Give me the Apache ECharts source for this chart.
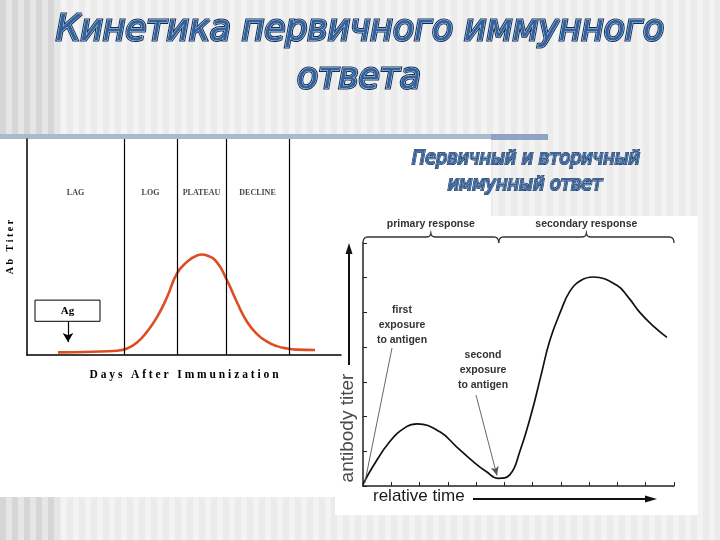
<!DOCTYPE html>
<html><head><meta charset="utf-8">
<script src="https://cdn.jsdelivr.net/npm/echarts@6.0.0/dist/echarts.min.js"></script>
<style>html,body{margin:0;padding:0;background:#f2f2f2}#c{width:720px;height:540px}</style>
</head><body><div id="c"></div>
<script>
// ---------- data ----------
const titleLines = ['Кинетика первичного иммунного', 'ответа'];
const subtitleLines = ['Первичный и вторичный', 'иммунный ответ'];

// left chart: primary response kinetics
const phaseNames = ['LAG', 'LOG', 'PLATEAU', 'DECLINE'];
const phaseBoundaries = [9.7, 15, 19.9, 26.2];
const primaryDays  = [3.1, 6.5, 9.0, 10, 11, 12, 13, 14, 15, 16, 17, 17.5, 18, 19, 20, 21, 22, 23, 24, 25, 26, 27, 28.8];
const primaryTiter = [1.2, 1.5, 2.0, 3.0, 5.8, 10.8, 17.5, 26.7, 37.8, 43.1, 46.1, 46.5, 46.1, 42.9, 34.6, 24.4, 15.4, 9.7, 6.2, 4.1, 3.0, 2.5, 2.3];
const agLabel = 'Ag';

// right chart: primary and secondary response
const relTime       = [0, 0.35, 0.95, 1.54, 1.92, 2.72, 3.31, 3.90, 4.37, 4.78, 5.19, 5.55, 5.96, 6.30, 6.61, 7.00, 7.31, 7.70, 8.14, 8.98, 9.40, 9.79, 10.25, 10.75];
const antibodyTiter = [0.05, 0.56, 1.28, 1.71, 1.79, 1.56, 1.13, 0.70, 0.41, 0.22, 0.32, 1.00, 2.10, 3.20, 4.20, 5.05, 5.60, 5.92, 6.02, 5.78, 5.42, 5.00, 4.62, 4.28];
const responseNames = ['primary response', 'secondary response'];
const responseSpans = [[0, 4.8], [4.8, 11]];
const firstExposureText = 'first\nexposure\nto antigen';
const secondExposureText = 'second\nexposure\nto antigen';
const firstExposurePoint = [0.06, 0.08];
const secondExposurePoint = [4.74, 0.3];

// ---------- helpers ----------
const ctx = document.createElement('canvas').getContext('2d');
function measure(text, font) { ctx.font = font; return ctx.measureText(text).width; }

const chart = echarts.init(document.getElementById('c'), null, {renderer: 'canvas'});

const serif = '"Liberation Serif", "DejaVu Serif", serif';
const sans = '"Liberation Sans", Arial, sans-serif';

const option = {
  animation: false,
  backgroundColor: '#f2f2f2',
  grid: [
    {left: 27, top: 139, width: 314, height: 216},
    {left: 363, top: 243, width: 311, height: 243}
  ],
  xAxis: [
    {
      gridIndex: 0, type: 'value', min: 0, max: 31.4,
      axisLine: {show: true, onZero: false, lineStyle: {color: '#000', width: 1.5}},
      axisTick: {show: false}, axisLabel: {show: false}, splitLine: {show: false},
      name: 'D a y s   A f t e r   I m m u n i z a t i o n',
      nameLocation: 'middle', nameGap: 14,
      nameTextStyle: {fontFamily: serif, fontWeight: 'bold', fontSize: 11.5, color: '#000'}
    },
    {
      gridIndex: 1, type: 'value', min: 0, max: 11, interval: 1,
      axisLine: {show: true, onZero: false, lineStyle: {color: '#222', width: 1.5}},
      axisTick: {show: true, inside: true, length: 4, lineStyle: {color: '#222', width: 1}},
      axisLabel: {show: false}, splitLine: {show: false}
    }
  ],
  yAxis: [
    {
      gridIndex: 0, type: 'value', min: 0, max: 100,
      axisLine: {show: true, onZero: false, lineStyle: {color: '#000', width: 1.5}},
      axisTick: {show: false}, axisLabel: {show: false}, splitLine: {show: false},
      name: 'A b   T i t e r', nameLocation: 'middle', nameGap: 12, nameRotate: 90,
      nameTextStyle: {fontFamily: serif, fontWeight: 'bold', fontSize: 10, color: '#000'}
    },
    {
      gridIndex: 1, type: 'value', min: 0, max: 7, interval: 1,
      axisLine: {show: true, onZero: false, lineStyle: {color: '#222', width: 1.5}},
      axisTick: {show: true, inside: true, length: 4, lineStyle: {color: '#222', width: 1}},
      axisLabel: {show: false}, splitLine: {show: false}
    }
  ],
  series: [
    {
      type: 'line', xAxisIndex: 0, yAxisIndex: 0,
      data: primaryDays.map((d, i) => [d, primaryTiter[i]]),
      smooth: 0.5, symbol: 'none', silent: true,
      lineStyle: {color: '#dc4e22', width: 2.6},
      z: 3,
      markLine: {
        silent: true, symbol: ['none', 'none'], animation: false,
        label: {show: false},
        lineStyle: {color: '#000', width: 1.2, type: 'solid'},
        data: phaseBoundaries.map(v => ({xAxis: v})).concat([
          [{coord: [4.1, 15.6], symbol: 'none'}, {coord: [4.1, 6.0], symbol: 'arrow', symbolSize: [8, 9]}]
        ])
      },
      markArea: {
        silent: true,
        itemStyle: {color: '#fff', borderColor: '#000', borderWidth: 1},
        label: {show: true, position: 'inside', fontFamily: serif, fontWeight: 'bold', fontSize: 11, color: '#000'},
        data: [[{name: agLabel, coord: [0.8, 25.4]}, {coord: [7.3, 15.6]}]]
      }
    },
    {
      type: 'scatter', xAxisIndex: 0, yAxisIndex: 0, symbolSize: 0, silent: true,
      data: phaseNames.map((n, i) => {
        const a = i === 0 ? 0 : phaseBoundaries[i - 1];
        const b = phaseBoundaries[i];
        return {value: [(a + b) / 2, 75], name: n};
      }),
      label: {show: true, position: 'inside', formatter: p => p.name,
        fontFamily: serif, fontWeight: 'bold', fontSize: 8, color: '#111'}
    },
    {
      type: 'line', xAxisIndex: 1, yAxisIndex: 1,
      data: relTime.map((t, i) => [t, antibodyTiter[i]]),
      smooth: 0.45, symbol: 'none', silent: true,
      lineStyle: {color: '#111', width: 1.7},
      markLine: {
        silent: true, symbol: ['none', 'none'], animation: false,
        label: {show: false},
        lineStyle: {color: '#555', width: 0.9, type: 'solid'},
        data: [
          [{x: 392, y: 348}, {coord: firstExposurePoint}],
          [{x: 476, y: 395}, {coord: secondExposurePoint, symbol: 'arrow', symbolSize: [6, 9]}]
        ]
      }
    }
  ]
};
chart.setOption(option);

// ---------- decoration / annotation graphics ----------
const g = [];
g.push({type: 'rect', shape: {x: 0, y: 0, width: 720, height: 540}, style: {fill: '#f3f3f3'}, z: 0});
for (let x = 55; x < 720; x += 12) {
  g.push({type: 'rect', shape: {x: x, y: 0, width: 6, height: 540}, style: {fill: '#ebebeb'}, z: 0});
}
for (let x = 0; x < 55; x += 12) {
  g.push({type: 'rect', shape: {x: x, y: 0, width: 6, height: 540}, style: {fill: '#d6d6d6'}, z: 0});
  g.push({type: 'rect', shape: {x: x + 6, y: 0, width: 6, height: 540}, style: {fill: '#e6e6e6'}, z: 0});
}
g.push({type: 'rect', shape: {x: 0, y: 139, width: 335, height: 358}, style: {fill: '#fff'}, z: 0});
g.push({type: 'rect', shape: {x: 0, y: 139, width: 491, height: 77}, style: {fill: '#fff'}, z: 0});
g.push({type: 'rect', shape: {x: 335, y: 216, width: 363, height: 299}, style: {fill: '#fff'}, z: 0});
g.push({type: 'rect', shape: {x: 0, y: 134, width: 491, height: 5}, style: {fill: '#aab9cb'}, z: 0});
g.push({type: 'rect', shape: {x: 491, y: 134, width: 57, height: 6}, style: {fill: '#8ea4c2'}, z: 0});

function outlinedText(text, cx, cy, size, targetW, scaleOverride, outer, inner) {
  const font = 'italic ' + size + 'px "DejaVu Sans"';
  const w = measure(text, font);
  const sx = scaleOverride || targetW / w;
  const common = {x: cx, y: cy, scaleX: sx, scaleY: 1};
  g.push(Object.assign({type: 'text', z: 6, style: {text: text, x: 0, y: 0, font: font, textAlign: 'center', textVerticalAlign: 'middle',
    fill: '#0b2d5c', stroke: '#0b2d5c', lineWidth: outer, lineJoin: 'round'}}, common));
  g.push(Object.assign({type: 'text', z: 7, style: {text: text, x: 0, y: 0, font: font, textAlign: 'center', textVerticalAlign: 'middle',
    fill: '#31619d', stroke: 'rgba(255,255,255,0.85)', lineWidth: inner}}, common));
  return sx;
}
const tSx = outlinedText(titleLines[0], 360, 31, 35, 608, 0, 3.0, 0.9);
outlinedText(titleLines[1], 359, 79, 35, 0, tSx, 3.0, 0.9);
const sSx = outlinedText(subtitleLines[0], 526, 159, 20, 228, 0, 2.2, 0.6);
outlinedText(subtitleLines[1], 525, 185, 20, 0, sSx, 2.2, 0.6);

// curly braces over the right chart (sampled quadratic curves)
function quad(p0, p1, p2, n) {
  const pts = [];
  for (let k = 0; k <= n; k++) {
    const t = k / n, u = 1 - t;
    pts.push([u * u * p0[0] + 2 * u * t * p1[0] + t * t * p2[0], u * u * p0[1] + 2 * u * t * p1[1] + t * t * p2[1]]);
  }
  return pts;
}
responseSpans.forEach((s, i) => {
  const p1 = chart.convertToPixel({gridIndex: 1}, [s[0], 7]);
  const p2 = chart.convertToPixel({gridIndex: 1}, [s[1], 7]);
  const a = p1[0], b = p2[0], E = p1[1], L = E - 6, C = E - 10, m = (a + b) / 2;
  let pts = [];
  pts = pts.concat(quad([a, E], [a, L], [a + 5, L], 6));
  pts = pts.concat(quad([m - 5, L], [m, L], [m, C], 4));
  pts = pts.concat(quad([m, C], [m, L], [m + 5, L], 4));
  pts = pts.concat(quad([b - 5, L], [b, L], [b, E], 6));
  g.push({type: 'polyline', shape: {points: pts}, style: {fill: null, stroke: '#333', lineWidth: 1.3}, z: 6});
  g.push({type: 'text', x: m, y: E - 19, z: 6, style: {text: responseNames[i], font: 'bold 10.5px ' + sans, fill: '#333',
    textAlign: 'center', textVerticalAlign: 'middle'}});
});

g.push({type: 'text', x: 402, y: 325, z: 6, style: {text: firstExposureText, font: 'bold 10.5px ' + sans, fill: '#333',
  textAlign: 'center', textVerticalAlign: 'middle', lineHeight: 15}});
g.push({type: 'text', x: 483, y: 370, z: 6, style: {text: secondExposureText, font: 'bold 10.5px ' + sans, fill: '#333',
  textAlign: 'center', textVerticalAlign: 'middle', lineHeight: 15}});

g.push({type: 'text', x: 348, y: 428, rotation: Math.PI / 2, z: 6, style: {text: 'antibody titer', font: '19px ' + sans, fill: '#4a4a4a',
  textAlign: 'center', textVerticalAlign: 'middle'}});
g.push({type: 'line', z: 6, shape: {x1: 349, y1: 365, x2: 349, y2: 252}, style: {stroke: '#111', lineWidth: 2}});
g.push({type: 'polygon', z: 6, shape: {points: [[349, 243], [345.5, 254], [352.5, 254]]}, style: {fill: '#111'}});
g.push({type: 'text', x: 373, y: 496, z: 6, style: {text: 'relative time', font: '17px ' + sans, fill: '#1a1a1a',
  textAlign: 'left', textVerticalAlign: 'middle'}});
g.push({type: 'line', z: 6, shape: {x1: 473, y1: 499, x2: 648, y2: 499}, style: {stroke: '#111', lineWidth: 2}});
g.push({type: 'polygon', z: 6, shape: {points: [[657, 499], [645, 495.5], [645, 502.5]]}, style: {fill: '#111'}});

chart.setOption({graphic: {elements: g}});
</script>
</body></html>
